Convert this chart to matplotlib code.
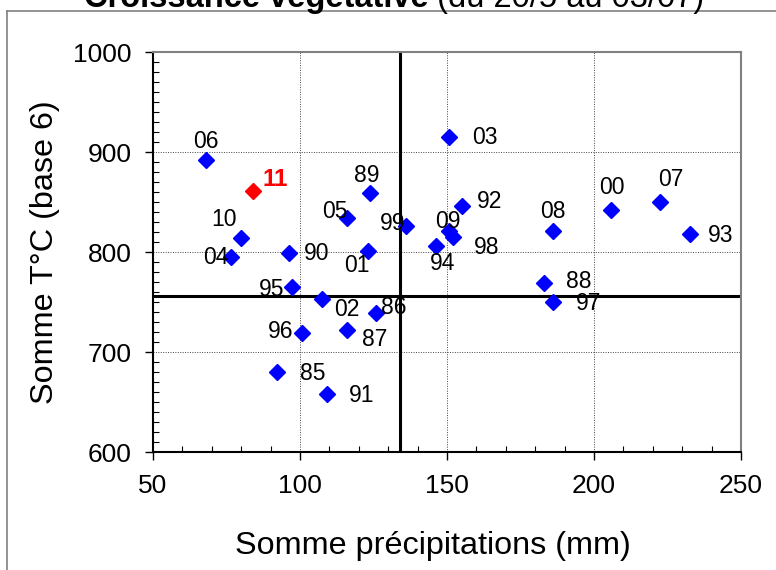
import matplotlib
matplotlib.use("Agg")
import matplotlib.pyplot as plt
from matplotlib.lines import Line2D

plt.rcParams['font.family'] = ['Liberation Sans', 'DejaVu Sans']

# ---- data ----
years = ["06", "11", "10", "04", "90", "95", "05", "89", "01", "99", "02", "86",
         "96", "87", "85", "91", "03", "92", "09", "98", "94", "08", "88", "97",
         "00", "07", "93"]
precip = [68.0, 84.0, 80.0, 76.5, 96.3, 97.3, 116.0, 123.8, 123.0, 136.0, 107.5, 125.9,
          100.7, 116.0, 92.2, 109.2, 150.7, 155.1, 150.7, 152.0, 146.3, 186.1, 183.0, 186.1,
          205.8, 222.4, 232.7]
temp = [892, 861, 814, 795, 799, 765, 834, 859, 801, 826, 753, 739,
        719, 722, 680, 658, 915, 846, 821, 815, 806, 821, 769, 750,
        842, 850, 818]
highlight = "11"
mean_precip = 134.0
mean_temp = 756

x_ticks = [50, 100, 150, 200, 250]
y_ticks = [600, 700, 800, 900, 1000]

title_bold = "Croissance végétative"
title_rest = " (du 20/5 au 03/07)"
xlabel = "Somme précipitations (mm)"
ylabel = "Somme T°C (base 6)"

# label offsets in pixels (dx right, dy up)
offsets = {
    "06": (0, 19), "11": (22, 11), "10": (-17, 18), "04": (-15, 0), "90": (28, 0),
    "95": (-20, -2), "05": (-12, 6), "89": (-3, 18), "01": (-11, -15), "99": (-13, 3),
    "02": (25, -10), "86": (18, 6), "96": (-21, 2), "87": (28, -9), "85": (36, -1),
    "91": (35, -1), "03": (36, -1), "92": (28, 4), "09": (-1, 9), "98": (34, -10),
    "94": (6, -17), "08": (0, 19), "88": (35, 1), "97": (35, -1), "00": (1, 23),
    "07": (11, 22), "93": (30, -1),
}

W, H = 776, 570
fig = plt.figure(figsize=(W / 100, H / 100), dpi=100)
ax = fig.add_axes([153 / W, 1 - 452 / H, (741 - 153) / W, (452 - 52) / H])

ax.set_xlim(50, 250)
ax.set_ylim(600, 1000)
ax.set_xticks(x_ticks)
ax.set_yticks(y_ticks)
ax.set_xticks(range(50, 251, 10), minor=True)
ax.set_yticks(range(600, 1001, 10), minor=True)
ax.tick_params(which='major', direction='out', length=5.5, width=1.0,
               labelsize=19, pad=10, colors='black')
ax.tick_params(which='minor', direction='in', length=4.3, width=0.8)
ax.grid(True, which='major', color='#444444', linestyle=(0, (1, 1.5)), linewidth=0.7)
ax.set_axisbelow(True)

for s in ['left', 'bottom']:
    ax.spines[s].set_color('black')
    ax.spines[s].set_linewidth(1.5)
for s in ['top', 'right']:
    ax.spines[s].set_color('#808080')
    ax.spines[s].set_linewidth(1.5)

ax.axvline(mean_precip, color='black', linewidth=2.2, zorder=2)
ax.axhline(mean_temp, color='black', linewidth=2.2, zorder=2)

for yr, xv, yv in zip(years, precip, temp):
    is_hi = (yr == highlight)
    col = '#FF0000' if is_hi else '#0000FF'
    ax.plot([xv], [yv], marker='D', markersize=8.5, color=col,
            markeredgecolor=col, linestyle='none', zorder=3)
    dx, dy = offsets[yr]
    ax.annotate(yr, (xv, yv), xytext=(dx, dy), textcoords='offset pixels',
                ha='center', va='center', fontsize=17.5 if is_hi else 16.5,
                color='#FF0000' if is_hi else 'black',
                fontweight='bold' if is_hi else 'normal', zorder=4)

ax.set_xlabel(xlabel, fontsize=23.3)
ax.xaxis.set_label_coords((433 - 153) / 588, -(531 - 452) / 400)
ax.set_ylabel(ylabel, fontsize=23.3, labelpad=9)

# outer frame (grey), partially cut like the reference
fig.add_artist(Line2D([6.5 / W, 6.5 / W], [0, 1 - 11 / H], color='#808080',
                      linewidth=1.2, transform=fig.transFigure))
fig.add_artist(Line2D([6.5 / W, 1], [1 - 11 / H, 1 - 11 / H], color='#808080',
                      linewidth=1.2, transform=fig.transFigure))

# title: bold part + normal part, centred, mostly cut off at the top
renderer = fig.canvas.get_renderer()
t1 = fig.text(0, 1 - 7 / H, title_bold, fontsize=23.5, fontweight='bold',
              ha='left', va='baseline')
t2 = fig.text(0, 1 - 7 / H, title_rest, fontsize=23.5, ha='left', va='baseline')
w1 = t1.get_window_extent(renderer).width
w2 = t2.get_window_extent(renderer).width
x0 = 394 - (w1 + w2) / 2
t1.set_x(x0 / W)
t2.set_x((x0 + w1) / W)

fig.savefig("out.png", dpi=100)
